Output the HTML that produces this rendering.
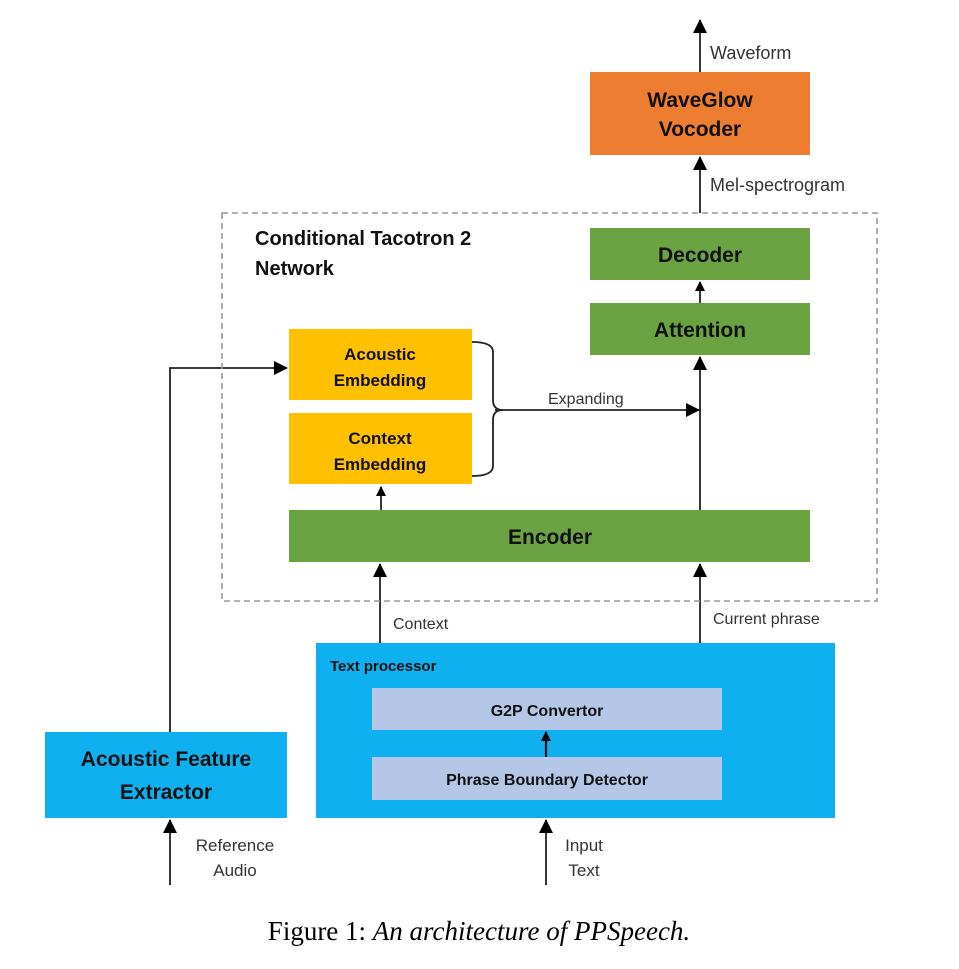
<!DOCTYPE html>
<html><head><meta charset="utf-8"><style>
html,body{margin:0;padding:0;background:#fff;}
svg{display:block;}
text{font-family:"Liberation Sans","DejaVu Sans",sans-serif;}
</style></head><body>
<svg width="959" height="969" viewBox="0 0 959 969" xmlns="http://www.w3.org/2000/svg">
<defs>
<marker id="a" markerWidth="10" markerHeight="10" refX="9" refY="5" orient="auto" markerUnits="userSpaceOnUse">
<path d="M0,0 L10,5 L0,10 z" fill="#000"/></marker>
<marker id="b" markerWidth="14" markerHeight="14" refX="13" refY="7" orient="auto" markerUnits="userSpaceOnUse">
<path d="M0,0 L14,7 L0,14 z" fill="#000"/></marker>
</defs>
<g stroke="#222" stroke-width="1.8" fill="none">
<line x1="700" y1="72" x2="700" y2="20" marker-end="url(#b)"/>
<line x1="700" y1="213" x2="700" y2="157" marker-end="url(#b)"/>
<line x1="700" y1="303" x2="700" y2="282" marker-end="url(#a)"/>
<line x1="700" y1="510" x2="700" y2="357" marker-end="url(#b)"/>
<line x1="495" y1="410" x2="699" y2="410" marker-end="url(#b)"/>
<line x1="381" y1="510" x2="381" y2="487" marker-end="url(#a)"/>
<line x1="380" y1="643" x2="380" y2="564" marker-end="url(#b)"/>
<line x1="700" y1="643" x2="700" y2="564" marker-end="url(#b)"/>
<polyline points="170,732 170,368 287,368" marker-end="url(#b)"/>
<line x1="170" y1="885" x2="170" y2="820" marker-end="url(#b)"/>
<line x1="546" y1="885" x2="546" y2="820" marker-end="url(#b)"/>
<path d="M472,342 Q493,342 493,352 L493,400 Q493,410 503,410 Q493,410 493,420 L493,466 Q493,476 472,476"/>
</g>
<rect x="222" y="213" width="655" height="388" fill="none" stroke="#999" stroke-width="1.6" stroke-dasharray="6,4"/>
<rect x="590" y="72" width="220" height="83" fill="#ED7D31"/>
<rect x="590" y="228" width="220" height="52" fill="#6BA342"/>
<rect x="590" y="303" width="220" height="52" fill="#6BA342"/>
<rect x="289" y="329" width="183" height="71" fill="#FFC000"/>
<rect x="289" y="413" width="183" height="71" fill="#FFC000"/>
<rect x="289" y="510" width="521" height="52" fill="#6BA342"/>
<rect x="316" y="643" width="519" height="175" fill="#0FB0F0"/>
<rect x="372" y="688" width="350" height="42" fill="#B4C7E7"/>
<rect x="372" y="757" width="350" height="43" fill="#B4C7E7"/>
<rect x="45" y="732" width="242" height="86" fill="#0FB0F0"/>
<line x1="546" y1="757" x2="546" y2="732" stroke="#111" stroke-width="2.2" marker-end="url(#a)"/>
<g font-weight="bold" fill="#111" text-anchor="middle">
<text x="700" y="107" font-size="21">WaveGlow</text>
<text x="700" y="136" font-size="21">Vocoder</text>
<text x="700" y="262" font-size="21">Decoder</text>
<text x="700" y="337" font-size="21">Attention</text>
<text x="380" y="360" font-size="17">Acoustic</text>
<text x="380" y="386" font-size="17">Embedding</text>
<text x="380" y="444" font-size="17">Context</text>
<text x="380" y="470" font-size="17">Embedding</text>
<text x="550" y="544" font-size="21">Encoder</text>
<text x="547" y="716" font-size="16">G2P Convertor</text>
<text x="547" y="785" font-size="16">Phrase Boundary Detector</text>
<text x="166" y="766" font-size="21">Acoustic Feature</text>
<text x="166" y="799" font-size="21">Extractor</text>
</g>
<g font-weight="bold" fill="#111" font-size="20">
<text x="255" y="245">Conditional Tacotron 2</text>
<text x="255" y="275">Network</text>
<text x="330" y="671" font-size="15">Text processor</text>
</g>
<g fill="#333" font-size="18">
<text x="710" y="59">Waveform</text>
<text x="710" y="191">Mel-spectrogram</text>
<text x="548" y="404" font-size="16">Expanding</text>
<text x="393" y="629" font-size="16">Context</text>
<text x="713" y="624" font-size="16">Current phrase</text>
<text x="235" y="851" font-size="17" text-anchor="middle">Reference</text>
<text x="235" y="876" font-size="17" text-anchor="middle">Audio</text>
<text x="584" y="851" font-size="17" text-anchor="middle">Input</text>
<text x="584" y="876" font-size="17" text-anchor="middle">Text</text>
</g>
<text x="479" y="940" text-anchor="middle" fill="#000" style="font-family:'Liberation Serif',serif;font-size:27px;">Figure 1: <tspan font-style="italic">An architecture of PPSpeech.</tspan></text>
</svg>
</body></html>
